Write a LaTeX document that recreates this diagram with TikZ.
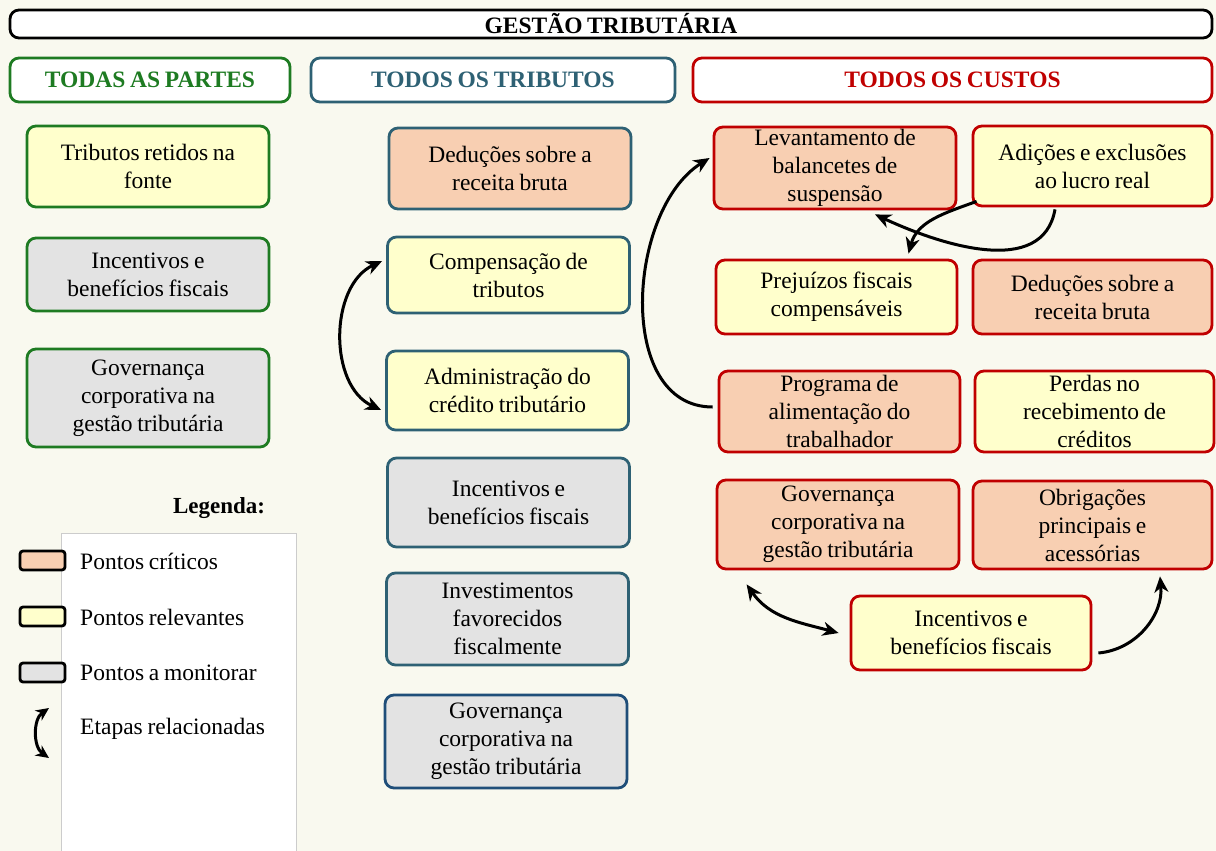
\documentclass[tikz,border=0pt]{standalone}
\usepackage{fontspec}
\setmainfont{Liberation Serif}[WordSpace=0.8]
\usetikzlibrary{arrows.meta}
\definecolor{fundo}{HTML}{F9F9EF}
\definecolor{critico}{HTML}{F8CFB2}
\definecolor{relevante}{HTML}{FFFFCC}
\definecolor{monitorar}{HTML}{E3E3E3}
\definecolor{verde}{HTML}{1E7B22}
\definecolor{azul}{HTML}{2E6174}
\definecolor{azulescuro}{HTML}{1F4E79}
\definecolor{vermelho}{HTML}{C00000}

\begin{document}
\begin{tikzpicture}[x=1pt, y=-1pt, inner sep=0pt, >={Stealth[length=16pt,width=14pt,inset=5pt]},
   txt/.style={font=\fontsize{23.5}{28}\selectfont},
   caixa/.style={txt, draw, rounded corners=9pt, line width=2.8pt, align=center},
   titulo/.style={caixa, fill=white, font=\fontsize{23.5}{26}\selectfont\bfseries},
   crit/.style={caixa, fill=critico, minimum width=242pt},
   relev/.style={caixa, fill=relevante, minimum width=242pt},
   monit/.style={caixa, fill=monitorar, minimum width=242pt},
   amostra/.style={draw, line width=2.8pt, rounded corners=3pt, minimum width=45pt, minimum height=19pt},
   liga/.style={line width=3pt}
   ]
   \fill[fundo] (0,0) rectangle (1216,851);
   \useasboundingbox (0,0) rectangle (1216,851);

   % cabecalhos
   \path (611,24) node[titulo, draw=black, minimum width=1202pt, minimum height=28pt] (T) {GESTÃO TRIBUTÁRIA}
   (150,80) node[titulo, draw=verde, text=verde, minimum width=280pt, minimum height=44pt] (H1) {TODAS AS PARTES}
   (493,80) node[titulo, draw=azul, text=azul, minimum width=364pt, minimum height=44pt] (H2) {TODOS OS TRIBUTOS}
   (952.5,80) node[titulo, draw=vermelho, text=vermelho, minimum width=519pt, minimum height=44pt] (H3) {TODOS OS CUSTOS};

   % todas as partes
   \path (148,166.5) node[relev, draw=verde, minimum height=81pt] (L1) {Tributos retidos na\\fonte}
   (148,274.5) node[monit, draw=verde, minimum height=73pt] (L2) {Incentivos e\\benefícios fiscais}
   (148,398) node[monit, draw=verde, minimum height=98pt] (L3) {Governança\\corporativa na\\gestão tributária};

   % todos os tributos
   \path (510,168.5) node[crit, draw=azul, minimum height=81pt] (M1) {Deduções sobre a\\receita bruta}
   (508.5,275) node[relev, draw=azul, minimum height=76pt] (M2) {Compensação de\\tributos}
   (507.5,390.5) node[relev, draw=azul, minimum height=79pt] (M3) {Administração do\\crédito tributário}
   (508.5,502.5) node[monit, draw=azul, minimum height=89pt] (M4) {Incentivos e\\benefícios fiscais}
   (507.5,619) node[monit, draw=azul, minimum height=92pt] (M5) {Investimentos\\favorecidos\\fiscalmente}
   (506,741.5) node[monit, draw=azulescuro, minimum height=93pt] (M6) {Governança\\corporativa na\\gestão tributária};

   % todos os custos
   \path (835,168) node[crit, draw=vermelho, minimum height=82pt] (R1) {Levantamento de\\balancetes de\\suspensão}
   (1092.5,166) node[relev, draw=vermelho, minimum width=239pt, minimum height=80pt] (R2) {Adições e exclusões\\ao lucro real}
   (836.5,297) node[relev, draw=vermelho, minimum width=241pt, minimum height=74pt] (R3) {Prejuízos fiscais\\compensáveis}
   (1092.5,297) node[crit, draw=vermelho, minimum width=239pt, minimum height=74pt] (R4) {Deduções sobre a\\receita bruta}
   (839.5,411.5) node[crit, draw=vermelho, minimum width=241pt, minimum height=81pt] (R5) {Programa de\\alimentação do\\trabalhador}
   (1094.5,411.5) node[relev, draw=vermelho, minimum width=239pt, minimum height=81pt] (R6) {Perdas no\\recebimento de\\créditos}
   (838,524.5) node[crit, draw=vermelho, minimum height=89pt] (R7) {Governança\\corporativa na\\gestão tributária}
   (1092.5,525) node[crit, draw=vermelho, minimum width=239pt, minimum height=88pt] (R8) {Obrigações\\principais e\\acessórias}
   (971,633) node[relev, draw=vermelho, minimum width=240pt, minimum height=74pt] (R9) {Incentivos e\\benefícios fiscais};

   % etapas relacionadas
   \draw[liga, <->] ([shift={(-4pt,14pt)}]M2.west) to[out=205, in=155] ([shift={(-4pt,-19.5pt)}]M3.west);
   \draw[liga, ->] ([shift={(-5pt,4.5pt)}]R5.west) to[out=180, in=212] ([shift={(-3pt,10pt)}]R1.west);
   \draw[liga, ->] ([shift={(5pt,6pt)}]R2.south west) to[out=200, in=75] ([shift={(72pt,5pt)}]R3.north);
   \draw[liga, ->] ([shift={(-37.5pt,-2pt)}]R2.south) to[out=-100, in=-25] ([shift={(40pt,-4pt)}]R1.south);
   \draw[liga, <->] ([shift={(31pt,-14pt)}]R7.south west) to[out=-55, in=165] ([xshift=-11pt]R9.west);
   \draw[liga, ->] ([shift={(6pt,-20pt)}]R9.east) to[out=5, in=-85] ([shift={(67.5pt,-6pt)}]R8.south);

   % legenda
   \path (219,508) node[txt, font=\fontsize{23}{26}\selectfont\bfseries] (Leg) {Legenda:};
   \draw[gray!40, fill=white] (61,533) rectangle (296,853);
   \path (42.5,560.5) node[amostra, fill=critico] (A1) {}
   (42.5,616.5) node[amostra, fill=relevante] (A2) {}
   (42.5,672.5) node[amostra, fill=monitorar] (A3) {};
   \path (80,561) node[txt, anchor=west] (E1) {Pontos críticos}
   (80,617) node[txt, anchor=west] (E2) {Pontos relevantes}
   (80,673) node[txt, anchor=west] (E3) {Pontos a monitorar}
   (80,729) node[txt, anchor=west] (E4) {Etapas relacionadas};
   \coordinate (S1) at (49,708);
   \coordinate (S2) at (49,758);
   \draw[liga, <->, >={Stealth[length=13pt,width=12pt,inset=4pt]}] (S1) to[out=215, in=145] (S2);
\end{tikzpicture}
\end{document}
